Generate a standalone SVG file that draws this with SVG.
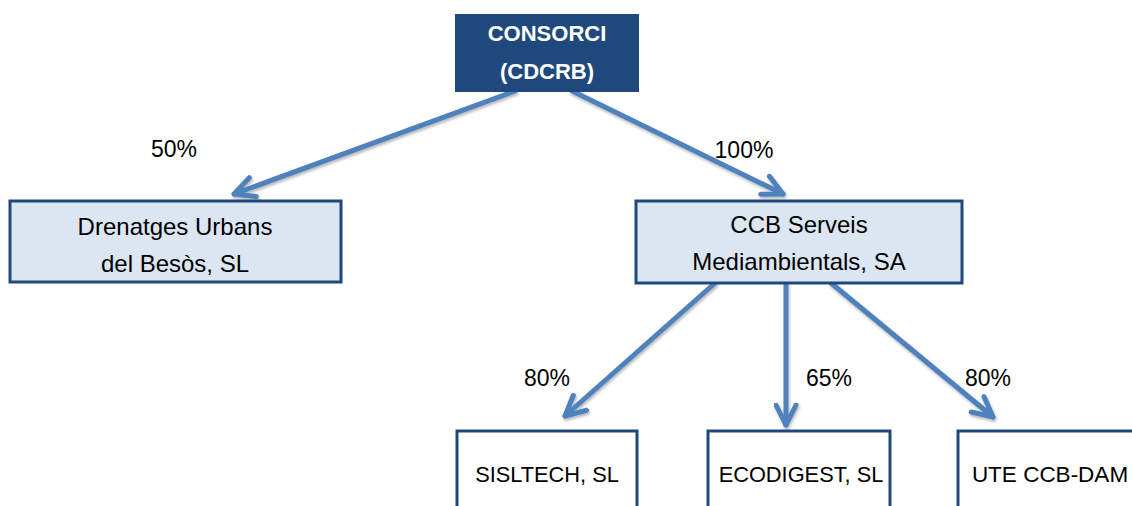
<svg xmlns="http://www.w3.org/2000/svg" width="1132" height="506" viewBox="0 0 1132 506">
<style>
.box{stroke:#1F497D;stroke-width:3}
.light{fill:#DCE6F2}
.white{fill:#FFFFFF}
.t{font-family:"Liberation Sans",Arial,sans-serif;font-size:24px;fill:#000;text-anchor:middle}
.tc{font-family:"Liberation Sans",Arial,sans-serif;font-size:21.8px;fill:#000;text-anchor:middle}
.tb{font-family:"Liberation Sans",Arial,sans-serif;font-size:22px;font-weight:bold;fill:#FFFFFF;text-anchor:middle}
.lbl{font-family:"Liberation Sans",Arial,sans-serif;font-size:23px;fill:#000;text-anchor:middle}
.arr{stroke:#4F81BD;stroke-width:5;fill:none;stroke-linecap:round;marker-end:url(#ah)}
</style>
<defs>
<marker id="ah" viewBox="0 0 10 10" refX="9" refY="5" markerWidth="5" markerHeight="5" orient="auto" markerUnits="strokeWidth">
<polyline points="1,1 9,5 1,9" fill="none" stroke="#4F81BD" stroke-width="2" stroke-linecap="round" stroke-linejoin="round"/>
</marker>
<filter id="sh" x="-20%" y="-20%" width="140%" height="140%">
<feDropShadow dx="1" dy="2" stdDeviation="1.5" flood-color="#000" flood-opacity="0.3"/>
</filter>
</defs>
<g id="connectors" filter="url(#sh)">
<line class="arr" x1="515" y1="91" x2="234" y2="194"/>
<line class="arr" x1="572" y1="91" x2="783" y2="194"/>
<line class="arr" x1="715" y1="283" x2="565" y2="416"/>
<line class="arr" x1="786" y1="284" x2="786" y2="425"/>
<line class="arr" x1="831" y1="283" x2="993" y2="417"/>
</g>
<g id="labels">
<text class="lbl" x="174" y="157">50%</text>
<text class="lbl" x="744" y="158">100%</text>
<text class="lbl" x="547" y="386">80%</text>
<text class="lbl" x="829" y="386">65%</text>
<text class="lbl" x="988" y="386">80%</text>
</g>
<g id="consorci">
<rect x="455" y="14" width="184" height="78" fill="#1F497D"/>
<text class="tb" x="547" y="41">CONSORCI</text>
<text class="tb" x="547" y="79">(CDCRB)</text>
</g>
<g id="drenatges">
<rect class="box light" x="10" y="201" width="331" height="81"/>
<text class="t" x="175" y="235">Drenatges Urbans</text>
<text class="t" x="175" y="272">del Besòs, SL</text>
</g>
<g id="ccb">
<rect class="box light" x="636" y="201" width="326" height="82"/>
<text class="t" x="799" y="233">CCB Serveis</text>
<text class="t" x="799" y="270">Mediambientals, SA</text>
</g>
<g id="sisltech">
<rect class="box white" x="457" y="431" width="180" height="90"/>
<text class="tc" x="547" y="482">SISLTECH, SL</text>
</g>
<g id="ecodigest">
<rect class="box white" x="708" y="431" width="182" height="90"/>
<text class="tc" x="801" y="482">ECODIGEST, SL</text>
</g>
<g id="ute">
<rect class="box white" x="958" y="431" width="190" height="90"/>
<text class="tc" x="1050" y="482" style="font-size:22.5px">UTE CCB-DAM</text>
</g>
</svg>
